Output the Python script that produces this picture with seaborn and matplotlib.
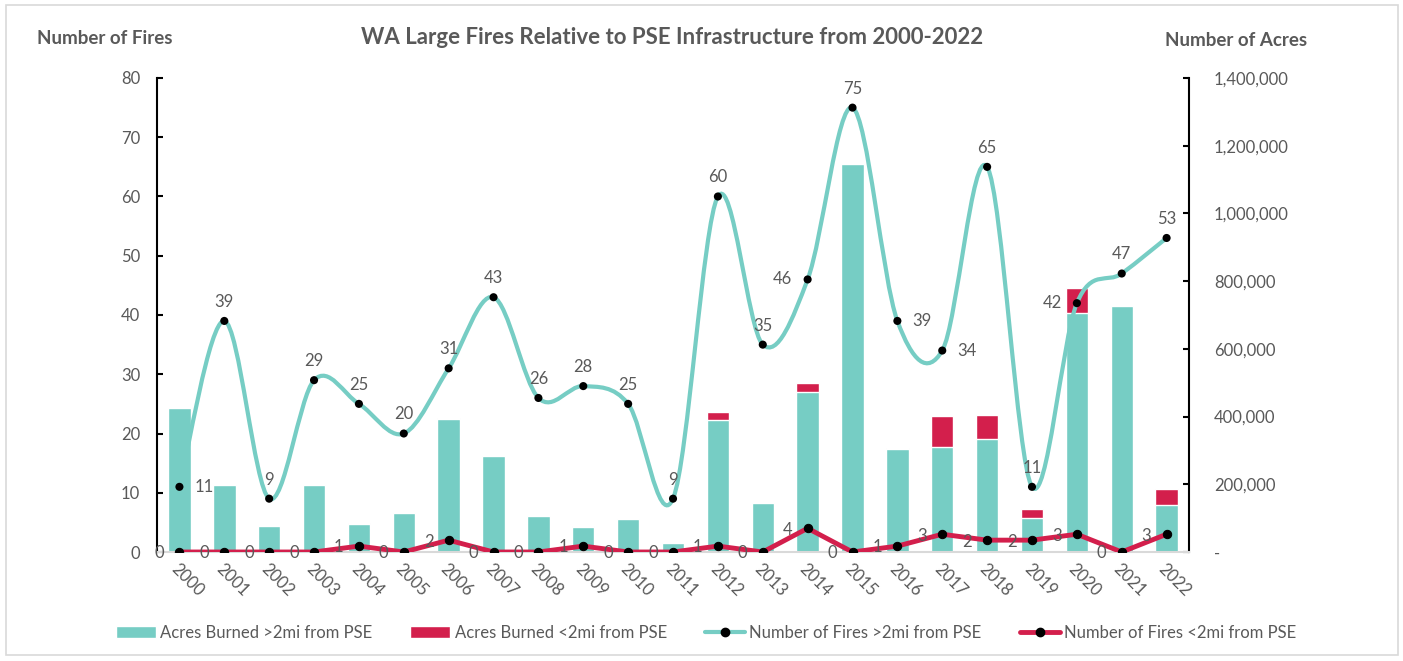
import numpy as np
import pandas as pd
import seaborn as sns
import matplotlib.pyplot as plt
from matplotlib.path import Path
from matplotlib.patches import PathPatch, Patch, Rectangle
from matplotlib.lines import Line2D
from matplotlib.ticker import FuncFormatter

sns.set_theme(style="white")
plt.rcParams['font.family'] = ['Lato', 'DejaVu Sans']

years = [str(y) for y in range(2000, 2023)]
fires_far = [11, 39, 9, 29, 25, 20, 31, 43, 26, 28, 25, 9, 60, 35, 46, 75, 39, 34, 65, 11, 42, 47, 53]
fires_near = [0, 0, 0, 0, 1, 0, 2, 0, 0, 1, 0, 0, 1, 0, 4, 0, 1, 3, 2, 2, 3, 0, 3]
acres_far = [425000, 197000, 77000, 197000, 83000, 115000, 393000, 284000, 106000, 74000,
             97000, 27000, 391000, 145000, 473000, 1146000, 304000, 311000, 335000, 101000,
             705000, 727000, 139000]
acres_near = [0, 0, 0, 0, 3500, 0, 4000, 0, 0, 4000,
              0, 0, 22000, 0, 26000, 0, 3000, 92000, 70000, 26000,
              75000, 0, 47000]

teal = "#76CDC4"
red = "#D31F4C"
gray = "#595959"

df = pd.DataFrame({'year': years, 'far': acres_far,
                   'total': np.array(acres_far) + np.array(acres_near)})

fig = plt.figure(figsize=(14.03, 6.61), dpi=100)
ax = fig.add_axes([0.1119, 0.1649, 0.7356, 0.7171])
ax2 = ax.twinx()

# bars on the right axis (acres)
sns.barplot(data=df, x='year', y='total', color=red, saturation=1, width=0.5, ax=ax2)
sns.barplot(data=df, x='year', y='far', color=teal, saturation=1, width=0.5, ax=ax2)
ax2.set_ylim(0, 1400000)
ax2.set_yticks(range(0, 1400001, 200000))
ax2.yaxis.set_major_formatter(FuncFormatter(lambda v, p: '-' if v == 0 else f'{int(v):,}'))
ax2.set_ylabel('')
ax2.set_xlabel('')

# lines on the left axis, drawn above the bars
ax.set_zorder(ax2.get_zorder() + 1)
ax.patch.set_visible(False)

pos = np.arange(len(years))

# smoothed curve (Catmull-Rom style bezier like Excel's smoothed line)
pts = np.column_stack([pos, fires_far]).astype(float)
ext = np.vstack([pts[0], pts, pts[-1]])
verts = [tuple(pts[0])]
codes = [Path.MOVETO]
for i in range(len(pts) - 1):
    p0, p1, p2, p3 = ext[i], ext[i + 1], ext[i + 2], ext[i + 3]
    c1 = p1 + (p2 - p0) / 6
    c2 = p2 - (p3 - p1) / 6
    verts += [tuple(c1), tuple(c2), tuple(p2)]
    codes += [Path.CURVE4] * 3
ax.add_patch(PathPatch(Path(verts, codes), facecolor='none', edgecolor=teal, lw=3, zorder=3,
                       capstyle='round'))
sns.scatterplot(x=pos, y=fires_far, color='black', s=34, edgecolor='none', zorder=5, ax=ax)

sns.lineplot(x=pos, y=fires_near, color=red, lw=3.5, marker='o', markersize=6,
             markerfacecolor='black', markeredgecolor='black', zorder=4, ax=ax)

ax.set_xlim(-0.5, 22.5)
ax.set_ylim(0, 80)
ax.set_yticks(range(0, 81, 10))
ax.set_xticks(pos)
ax.set_xticklabels(years, rotation=-45, ha='left', va='top', rotation_mode='anchor')

# data labels
far_place = {0: 'right', 14: 'left', 16: 'right', 17: 'right', 20: 'left'}
offsets = {'above': ((0, 8), 'center', 'bottom'),
           'right': ((11, 0), 'left', 'center'),
           'left': ((-11, 0), 'right', 'center')}
for i, v in enumerate(fires_far):
    off, ha, va = offsets[far_place.get(i, 'above')]
    ax.annotate(str(v), (pos[i], v), xytext=off, textcoords='offset points',
                ha=ha, va=va, fontsize=12, color=gray, zorder=6)
for i, v in enumerate(fires_near):
    ax.annotate(str(v), (pos[i], v), xytext=(-11, -1), textcoords='offset points',
                ha='right', va='center', fontsize=12, color=gray, zorder=6)

for a in (ax, ax2):
    for s in a.spines.values():
        s.set_visible(False)
ax.spines['left'].set_visible(True)
ax.spines['left'].set_color('black')
ax.spines['left'].set_linewidth(1.5)
ax.spines['bottom'].set_visible(True)
ax.spines['bottom'].set_color('#D9D9D9')
ax.spines['bottom'].set_linewidth(1.5)
ax2.spines['right'].set_visible(True)
ax2.spines['right'].set_color('black')
ax2.spines['right'].set_linewidth(1.5)

ax.tick_params(axis='y', direction='in', length=4, width=1.5, color='black', pad=12,
               labelsize=12, labelcolor=gray, left=True)
ax.tick_params(axis='x', length=0, pad=6, labelsize=12, labelcolor=gray)
ax2.tick_params(axis='y', direction='in', length=4, width=1.5, color='black', pad=18,
                labelsize=12, labelcolor=gray, right=True)

fig.text(0.479, 0.944, 'WA Large Fires Relative to PSE Infrastructure from 2000-2022',
         ha='center', va='center', fontsize=16, fontweight='bold', color=gray)
fig.text(37 / 1403, 1 - 38 / 661, 'Number of Fires', ha='left', va='center',
         fontsize=13.5, fontweight='bold', color=gray)
fig.text(1165 / 1403, 1 - 41 / 661, 'Number of Acres', ha='left', va='center',
         fontsize=13.5, fontweight='bold', color=gray)

handles = [Patch(facecolor=teal), Patch(facecolor=red),
           Line2D([], [], color=teal, lw=3, marker='o', markersize=6,
                  markerfacecolor='black', markeredgecolor='black'),
           Line2D([], [], color=red, lw=3.5, marker='o', markersize=6,
                  markerfacecolor='black', markeredgecolor='black')]
labels = ['Acres Burned >2mi from PSE', 'Acres Burned <2mi from PSE',
          'Number of Fires >2mi from PSE', 'Number of Fires <2mi from PSE']
leg = fig.legend(handles, labels, loc='center', bbox_to_anchor=(706 / 1403, 1 - 633 / 661),
                 ncol=4, frameon=False, fontsize=12, handlelength=2.4, handletextpad=0.25,
                 columnspacing=2.3)
for t in leg.get_texts():
    t.set_color(gray)

fig.patches.append(Rectangle((6 / 1403, 6 / 661), 1392 / 1403, 650 / 661,
                             transform=fig.transFigure, fill=False,
                             edgecolor='#D9D9D9', lw=1.2))

fig.savefig('out.png', dpi=100)
